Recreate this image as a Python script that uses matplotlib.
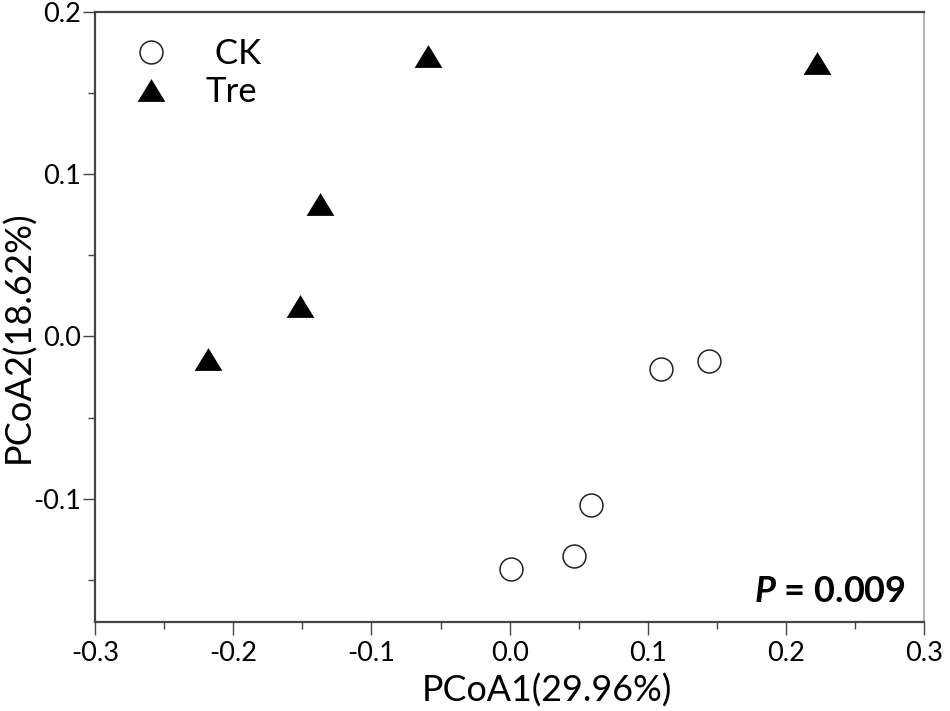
import matplotlib
matplotlib.use("Agg")
import matplotlib.pyplot as plt
from matplotlib.ticker import MultipleLocator, FixedLocator

plt.rcParams['font.family'] = ['Lato', 'DejaVu Sans']
plt.rcParams['mathtext.fontset'] = 'custom'
plt.rcParams['mathtext.it'] = 'Lato:italic:bold'
plt.rcParams['mathtext.rm'] = 'Lato:bold'

groups = ["CK", "Tre"]
ck_x = [0.0010, 0.0468, 0.0589, 0.1093, 0.1440]
ck_y = [-0.1431, -0.1352, -0.1036, -0.0202, -0.0151]
tre_x = [-0.2185, -0.1517, -0.1372, -0.0589, 0.2224]
tre_y = [-0.0139, 0.0188, 0.0816, 0.1730, 0.1685]
x_ticks = [-0.3, -0.2, -0.1, 0.0, 0.1, 0.2, 0.3]
y_ticks = [-0.1, 0.0, 0.1, 0.2]
x_label = "PCoA1(29.96%)"
y_label = "PCoA2(18.62%)"
p_text = r"$P$ = 0.009"

fig = plt.figure(figsize=(9.5, 7.11), dpi=100)
ax = fig.add_axes([0.1, 0.1256, 0.873, 0.858])

tri = [(0, 0.82), (-1, -0.82), (1, -0.82)]
ax.plot(ck_x, ck_y, linestyle='none', marker='o', markersize=16.5,
        markerfacecolor='white', markeredgecolor='#222222', markeredgewidth=1.1,
        label=" " + groups[0])
ax.plot(tre_x, tre_y, linestyle='none', marker=tri, markersize=20,
        markerfacecolor='black', markeredgecolor='black', markeredgewidth=0,
        label=groups[1])

ax.set_xlim(-0.3, 0.3)
ax.set_ylim(-0.1757, 0.2)
ax.xaxis.set_major_locator(FixedLocator(x_ticks))
ax.yaxis.set_major_locator(FixedLocator(y_ticks))
ax.xaxis.set_minor_locator(MultipleLocator(0.05))
ax.yaxis.set_minor_locator(MultipleLocator(0.05))
ax.set_xticklabels([f"{v:.1f}" for v in x_ticks])
ax.set_yticklabels([f"{v:.1f}" for v in y_ticks])

ax.tick_params(which='major', direction='out', length=9, width=1.0,
               color='#444444', labelsize=19.5, pad=5)
ax.tick_params(which='minor', direction='out', length=5, width=1.0,
               color='#444444')
ax.tick_params(axis='y', which='major', pad=1)
ax.tick_params(top=False, right=False)

for s in ['left', 'bottom', 'top']:
    ax.spines[s].set_color('#444444')
    ax.spines[s].set_linewidth(1.6)
ax.spines['right'].set_color('#a8a8a8')
ax.spines['right'].set_linewidth(1.2)

ax.set_xlabel(x_label, fontsize=25.8)
ax.set_ylabel(y_label, fontsize=26)
ax.xaxis.set_label_coords(0.5447, -0.0857)
ax.yaxis.set_label_coords(-0.0724, 0.467)

leg = ax.legend(loc='upper left', frameon=False, fontsize=25,
                bbox_to_anchor=(0.0422, 0.957), handletextpad=0.98,
                labelspacing=0.18, handlelength=1.2, borderaxespad=0,
                borderpad=0)

ax.text(0.978, 0.050, p_text, transform=ax.transAxes, ha='right', va='center',
        fontsize=26, fontweight='bold')

fig.savefig("out.png", dpi=100)
